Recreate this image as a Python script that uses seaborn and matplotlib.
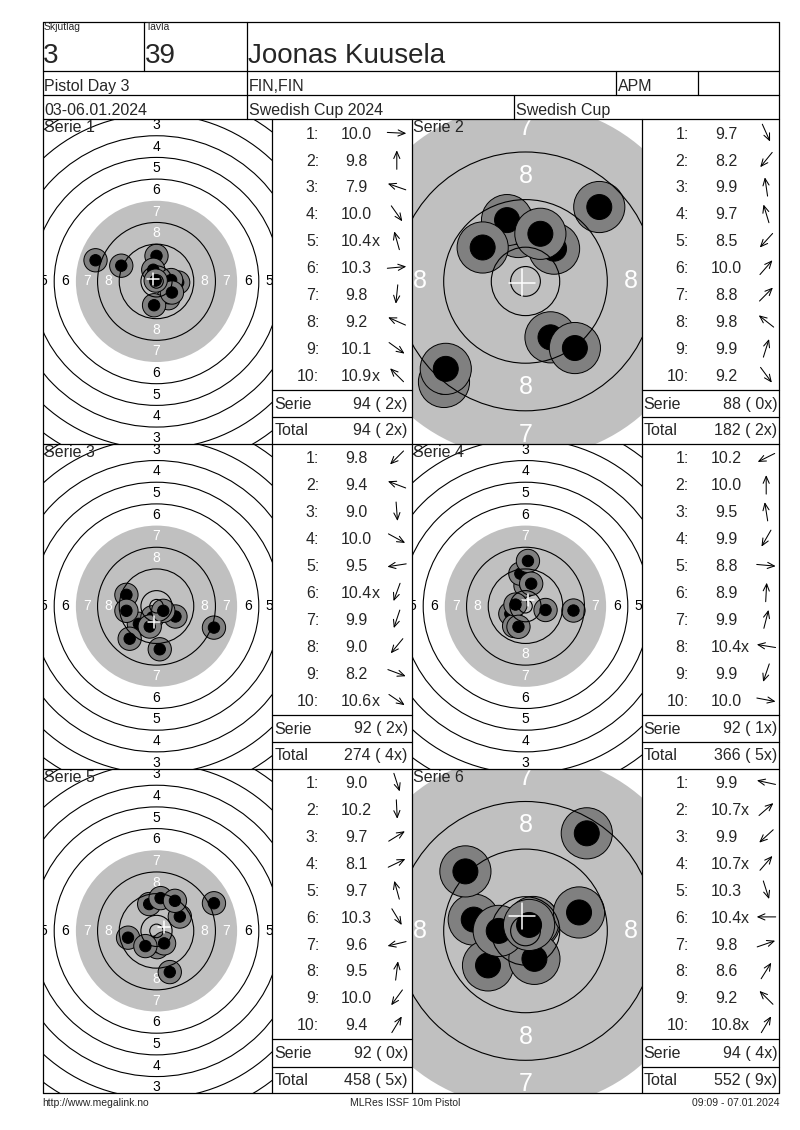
import numpy as np
import pandas as pd
import matplotlib
matplotlib.use("Agg")
import matplotlib.pyplot as plt
from matplotlib.patches import Circle
import seaborn as sns

sns.set_style("white")
plt.rcParams["font.family"] = ["Liberation Sans", "DejaVu Sans"]

# header / footer texts
squad = "3"
lane = "39"
shooter = "Joonas Kuusela"
match_name = "Pistol Day 3"
nation = "FIN,FIN"
shooter_class = "APM"
dates = "03-06.01.2024"
event = "Swedish Cup 2024"
event_short = "Swedish Cup"
footer_left = "http://www.megalink.no"
footer_mid = "MLRes ISSF 10m Pistol"
footer_right = "09:09 - 07.01.2024"

series_labels = ["Serie 1", "Serie 2", "Serie 3", "Serie 4", "Serie 5", "Serie 6"]

# shot scores as printed
scores_s1 = ["10.0", "9.8", "7.9", "10.0", "10.4x", "10.3", "9.8", "9.2", "10.1", "10.9x"]
scores_s2 = ["9.7", "8.2", "9.9", "9.7", "8.5", "10.0", "8.8", "9.8", "9.9", "9.2"]
scores_s3 = ["9.8", "9.4", "9.0", "10.0", "9.5", "10.4x", "9.9", "9.0", "8.2", "10.6x"]
scores_s4 = ["10.2", "10.0", "9.5", "9.9", "8.8", "8.9", "9.9", "10.4x", "9.9", "10.0"]
scores_s5 = ["9.0", "10.2", "9.7", "8.1", "9.7", "10.3", "9.6", "9.5", "10.0", "9.4"]
scores_s6 = ["9.9", "10.7x", "9.9", "10.7x", "10.3", "10.4x", "9.8", "8.6", "9.2", "10.8x"]

# shot positions in mm from target centre (x right, y up)
x_s1 = [8.0, 0.0, -22.5, 4.4, -1.2, 5.4, -0.9, -13.0, 5.7, -0.3]
y_s1 = [-0.4, 9.4, 7.8, -6.2, 4.3, 0.5, -8.8, 5.8, -4.1, 0.3]
x_s2 = [4.2, -13.7, -1.2, -3.1, -13.4, 4.8, 12.4, -7.2, 2.5, 8.3]
y_s2 = [-9.4, -16.9, 8.3, 10.3, -14.7, 5.5, 12.5, 5.7, 8.0, -11.2]
x_s3 = [-6.5, -11.1, 1.2, 7.0, -11.1, -1.5, -2.5, -9.9, 21.2, 2.5]
y_s3 = [-6.5, 4.2, -15.9, -3.8, -1.7, -4.1, -7.5, -12.0, -7.9, -1.7]
x_s4 = [-5.6, 0.0, -1.9, -4.2, 17.7, 0.9, 2.1, -3.7, -2.6, 7.4]
y_s4 = [-2.8, 7.6, 12.0, -7.3, -1.6, 16.7, 8.3, 0.6, -7.6, -1.4]
x_s5 = [4.9, 0.3, 8.6, 21.2, -2.7, 2.8, -10.5, 1.5, -4.1, 6.8]
y_s5 = [-15.2, -6.0, 5.3, 10.2, 9.9, -4.6, -2.5, 12.1, -5.6, 11.1]
x_s6 = [-8.7, 1.5, -6.3, 1.3, 1.5, -4.5, 9.0, 10.3, -10.1, 0.6]
y_s6 = [1.9, 1.3, -5.8, 1.5, -4.7, 0.0, 3.1, 16.4, 10.0, 1.0]

serie_sum = [94, 88, 92, 92, 92, 94]
serie_x = [2, 0, 2, 1, 0, 4]
total_sum = [94, 182, 274, 366, 458, 552]
total_x = [2, 2, 4, 5, 5, 9]
zoomed = [False, True, False, False, False, True]

scores = [scores_s1, scores_s2, scores_s3, scores_s4, scores_s5, scores_s6]
shot_x = [x_s1, x_s2, x_s3, x_s4, x_s5, x_s6]
shot_y = [y_s1, y_s2, y_s3, y_s4, y_s5, y_s6]

# ISSF 10m pistol ring radii, rings 1..10 (mm)
RING_R = [77.75, 69.75, 61.75, 53.75, 45.75, 37.75, 29.75, 21.75, 13.75, 5.75]
INNER_TEN = 2.5

W, H = 800, 1130
LEFT, RIGHT, TOP, BOTTOM = 42.7, 779.3, 21.7, 1093.3
panel_x = [(42.7, 272.3), (411.7, 641.7)]
table_x = [272.3, 641.7]
band_top = [119.0, 443.8, 768.5]
band_h = 324.8
CENTER_DX = 113.8  # target centre, px from panel left edge
FS = 11.5
LW = 0.9


def px_rect(x0, y0, x1, y1):
    return [x0 / W, 1 - y1 / H, (x1 - x0) / W, (y1 - y0) / H]


def draw_target(ax, xs, ys, zoom, box):
    scale = 5.95 if zoom else 2.71  # px per mm
    width = box[2] - box[0]
    half_h = (box[3] - box[1]) / 2 / scale
    ax.add_patch(Circle((0, 0), RING_R[6], facecolor="#c0c0c0", edgecolor="none", zorder=1))

    fs = 18 if zoom else 10
    for n in range(1, 9):
        rr = RING_R[n - 1] - 4
        col = "white" if n >= 7 else "black"
        for dx, dy in [(0, 1), (0, -1), (1, 0), (-1, 0)]:
            ax.text(dx * rr, dy * rr, str(n), color=col, fontsize=fs,
                    ha="center", va="center", clip_on=True, zorder=2)

    rows = []
    for x, y in zip(xs, ys):
        rows.append({"x": x, "y": y, "layer": "ring"})
        rows.append({"x": x, "y": y, "layer": "core"})
    df = pd.DataFrame(rows)
    pt = scale * 0.72
    sizes = {"ring": (2 * 4.3 * pt) ** 2, "core": (2 * 2.1 * pt) ** 2}
    sns.scatterplot(data=df, x="x", y="y", hue="layer", size="layer",
                    palette={"ring": "#808080", "core": "black"}, sizes=sizes,
                    edgecolor="black", linewidth=0.7, legend=False, ax=ax, zorder=3)

    for r in RING_R[:6] + RING_R[7:] + [INNER_TEN]:
        ax.add_patch(Circle((0, 0), r, fill=False, edgecolor="black", lw=0.8, zorder=4))

    mx, my = np.mean(xs), np.mean(ys)
    ax.plot([mx - 2.2, mx + 2.2], [my, my], color="white", lw=1.1, zorder=6)
    ax.plot([mx, mx], [my - 2.2, my + 2.2], color="white", lw=1.1, zorder=6)
    ax.set_xlim(-CENTER_DX / scale, (width - CENTER_DX) / scale)
    ax.set_ylim(-half_h, half_h)
    ax.set_axis_off()


fig = plt.figure(figsize=(8, 11.3), dpi=100)

for i in range(6):
    c, r = i % 2, i // 2
    box = (panel_x[c][0], band_top[r], panel_x[c][1], band_top[r] + band_h)
    ax = fig.add_axes(px_rect(*box))
    draw_target(ax, shot_x[i], shot_y[i], zoomed[i], box)

bg = fig.add_axes([0, 0, 1, 1], zorder=10)
bg.set_xlim(0, W)
bg.set_ylim(H, 0)
bg.axis("off")
bg.patch.set_alpha(0)

# frame
for y in [TOP, 70.7, 95.3, 119.0, band_top[1], band_top[2], BOTTOM]:
    bg.plot([LEFT, RIGHT], [y, y], color="black", lw=LW)
for x in [LEFT, RIGHT]:
    bg.plot([x, x], [TOP, BOTTOM], color="black", lw=LW)
bg.plot([144.3, 144.3], [TOP, 70.7], color="black", lw=LW)
bg.plot([246.7, 246.7], [TOP, 119.0], color="black", lw=LW)
bg.plot([616.0, 616.0], [70.7, 95.3], color="black", lw=LW)
bg.plot([698.3, 698.3], [70.7, 95.3], color="black", lw=LW)
bg.plot([513.5, 513.5], [95.3, 119.0], color="black", lw=LW)
for x in [272.3, 411.7, 641.7]:
    bg.plot([x, x], [119.0, BOTTOM], color="black", lw=LW)

# header
bg.text(44, 30, "Skjutlag", fontsize=7.5, va="baseline")
bg.text(146, 30, "Tavla", fontsize=7.5, va="baseline")
bg.text(43, 62.7, squad, fontsize=20, va="baseline")
bg.text(145, 62.7, lane, fontsize=20, va="baseline")
bg.text(248, 62.7, shooter, fontsize=20, va="baseline")
bg.text(44, 91, match_name, fontsize=FS, va="baseline")
bg.text(249, 91, nation, fontsize=FS, va="baseline")
bg.text(618, 91, shooter_class, fontsize=FS, va="baseline")
bg.text(44, 115, dates, fontsize=FS, va="baseline")
bg.text(249, 115, event, fontsize=FS, va="baseline")
bg.text(516, 115, event_short, fontsize=FS, va="baseline")

# series tables
arrow_style = dict(arrowstyle="->,head_length=0.5,head_width=0.22", lw=0.75,
                   color="black", shrinkA=0, shrinkB=0, mutation_scale=10)
for i in range(6):
    c, r = i % 2, i // 2
    tx0 = table_x[c]
    y0 = band_top[r]
    bg.text(panel_x[c][0] + 1.5, y0 + 1, series_labels[i], fontsize=FS, va="top")
    for k, s in enumerate(scores[i]):
        yc = y0 + 13.9 + 26.9 * k
        yb = yc + 5.7
        bg.text(tx0 + 47, yb, f"{k + 1}:", fontsize=FS, ha="right", va="baseline")
        bg.text(tx0 + 84.4, yb, s.rstrip("x"), fontsize=FS, ha="center", va="baseline")
        if s.endswith("x"):
            bg.text(tx0 + 99.4, yb, "x", fontsize=FS, ha="left", va="baseline")
        theta = np.arctan2(shot_y[i][k], shot_x[i][k])
        cx = tx0 + 124.5
        dx, dy = 9.5 * np.cos(theta), -9.5 * np.sin(theta)
        bg.annotate("", xy=(cx + dx, yc + dy), xytext=(cx - dx, yc - dy), arrowprops=arrow_style)
    tx1 = tx0 + (139.4 if c == 0 else 137.6)
    for yl in [y0 + 270.7, y0 + 298.0]:
        bg.plot([tx0, tx1], [yl, yl], color="black", lw=LW)
    bg.text(tx0 + 2, y0 + 289.7, "Serie", fontsize=FS, va="baseline")
    bg.text(tx0 + 135.5, y0 + 289.7, f"{serie_sum[i]} ( {serie_x[i]}x)", fontsize=FS, ha="right", va="baseline")
    bg.text(tx0 + 2, y0 + 316.4, "Total", fontsize=FS, va="baseline")
    bg.text(tx0 + 135.5, y0 + 316.4, f"{total_sum[i]} ( {total_x[i]}x)", fontsize=FS, ha="right", va="baseline")

# footer
bg.text(42, 1106, footer_left, fontsize=7.5, va="baseline")
bg.text(405, 1106, footer_mid, fontsize=7.5, ha="center", va="baseline")
bg.text(779, 1106, footer_right, fontsize=7.5, ha="right", va="baseline")

fig.savefig("out.png", dpi=100)
